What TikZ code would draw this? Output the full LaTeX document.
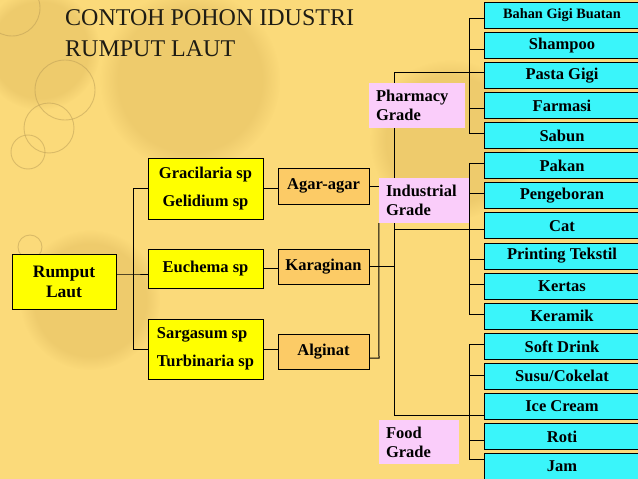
\documentclass[tikz,border=0pt]{standalone}
\usepackage{fontspec}
\setmainfont{Liberation Serif}
\usetikzlibrary{calc,fadings}
\definecolor{bgc}{RGB}{251,218,122}
\definecolor{shadowc}{RGB}{200,160,70}
\definecolor{ringc}{RGB}{185,155,85}
\definecolor{yfill}{RGB}{255,255,0}
\definecolor{ofill}{RGB}{252,203,102}
\definecolor{cfill}{RGB}{58,245,250}
\definecolor{pfill}{RGB}{250,205,250}
\definecolor{titlec}{RGB}{30,28,20}
\pgfdeclarelayer{back}
\pgfdeclarelayer{bg}
\pgfsetlayers{back,bg,main}
\tikzset{
  boxtext/.style={font=\bfseries\fontsize{16.5}{28}\selectfont},
  box/.style={draw=black, line width=1pt, inner sep=0pt, align=center, boxtext},
  ybox/.style={box, fill=yfill, minimum width=115},
  obox/.style={box, fill=ofill, minimum width=91, minimum height=35},
  cbox/.style={box, fill=cfill, minimum width=156, minimum height=26},
  gbox/.style={fill=pfill, inner xsep=7, inner ysep=0, align=left, minimum height=45,
    font=\bfseries\fontsize{16.5}{19}\selectfont},
  conn/.style={line width=1pt, draw=black},
  ring/.style={draw=ringc, line width=0.9pt, opacity=0.5},
  blob/.style={fill=shadowc, opacity=0.25, path fading=circle with fuzzy edge 20 percent},
}
\begin{document}
\begin{tikzpicture}[x=1pt,y=-1pt]
\useasboundingbox (0,0) rectangle (638,479);
\begin{pgfonlayer}{back}
  \begin{scope}
  \clip (0,0) rectangle (638,479);
  \fill[bgc] (0,0) rectangle (638,479);
  \fill[blob] (190,80) circle (90);
  \fill[blob] (40,50) circle (60);
  \fill[blob] (450,140) circle (80);
  \fill[blob] (90,300) circle (70);
  \draw[ring] (65,90) circle (30);
  \draw[ring] (49,128) circle (25);
  \draw[ring] (28,152) circle (17);
  \draw[ring] (30,247) circle (12);
  \draw[ring] (12,8) circle (28);
  \end{scope}
\end{pgfonlayer}

% title
\node[anchor=north west, inner sep=0, align=left, text=titlec,
  font=\fontsize{24}{31}\selectfont] (title) at (65,9) {CONTOH POHON IDUSTRI\\RUMPUT LAUT};

% left column
\node[box, fill=yfill, minimum width=104, minimum height=55,
  font=\bfseries\fontsize{17.5}{20}\selectfont] (rl) at (64,281.5) {Rumput\\Laut};
\node[ybox, minimum height=61] (gr) at (205.5,188.5) {Gracilaria sp\\Gelidium sp};
\node[ybox, minimum height=39] (eu) at (205.5,268.5) {Euchema sp};
\node[ybox, minimum height=60, align=left] (sg) at (205.5,349) {Sargasum sp\\Turbinaria sp};

\node[obox, minimum height=36] (ag) at (323.5,186) {Agar-agar};
\node[obox] (ka) at (323.5,266.5) {Karaginan};
\node[obox] (al) at (323.5,351.5) {Alginat};

% grades
\node[gbox, text width=82] (ph) at (417,105.5) {Pharmacy\\Grade};
\node[gbox, text width=76] (ind) at (424,200.5) {Industrial\\Grade};
\node[gbox, text width=66, minimum height=44] (fd) at (419,442) {Food\\Grade};

% products
\node[cbox, font=\bfseries\fontsize{14.3}{16}\selectfont] (c0) at (562,15.5) {Bahan Gigi Buatan};
\coordinate (s0) at (469,18);
\foreach \t/\sy [count=\i from 1] in {Shampoo/49, Pasta Gigi/72, Farmasi/108, Sabun/133,
  Pakan/163, Pengeboran/193, Cat/229, Printing Tekstil/259, Kertas/284, Keramik/314,
  Soft Drink/344, {Susu/Cokelat}/375, Ice Cream/415, Roti/440, Jam/459}{
  \node[cbox] (c\i) at (562,{15.5+30.07*\i}) {\t};
  \coordinate (s\i) at (469,\sy);
}

% junction coordinates
\coordinate (b1) at (133,188);
\coordinate (b1m) at (133,274);
\coordinate (b1b) at (133,349);
\coordinate (tp) at (394,72);
\coordinate (ti) at (394,229);
\coordinate (tf) at (394,415);
\coordinate (aj) at (379,358);

\begin{pgfonlayer}{bg}
  \foreach \i in {0,...,15}{ \draw[conn] (s\i) -- (s\i -| c\i.west); }
  \draw[conn] (s0) -- (s4);
  \draw[conn] (s5) -- (s10);
  \draw[conn] (s11) -- (s15);
  \draw[conn] (tp) -- (tf);
  \draw[conn] (tp) -- (s2);
  \draw[conn] (ti) -- (s7);
  \draw[conn] (tf) -- (s13);
  \draw[conn] (ka.east) -- (ka.east -| tp);
  \draw[conn] (ag.east) -- (ag.east -| ind.west);
  \draw[conn] (ind.south west) -- (aj) -- (aj -| al.east);
  \draw[conn] (gr.east) -- (gr.east -| ag.west);
  \draw[conn] (eu.east) -- (eu.east -| ka.west);
  \draw[conn] (sg.east) -- (sg.east -| al.west);
  \draw[conn] (rl.east |- b1m) -- (b1m) -- (b1m -| eu.west);
  \draw[conn] (b1) -- (b1b);
  \draw[conn] (b1) -- (b1 -| gr.west);
  \draw[conn] (b1b) -- (b1b -| sg.west);
\end{pgfonlayer}
\end{tikzpicture}
\end{document}
